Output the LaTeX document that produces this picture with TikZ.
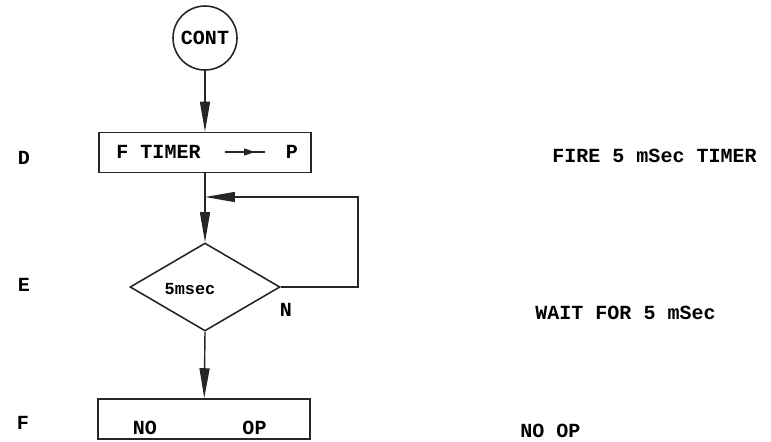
\documentclass[tikz,border=0pt]{standalone}
\usepackage{fontspec}
\setmonofont{Liberation Mono}
\usetikzlibrary{shapes.geometric, arrows.meta, positioning, decorations.markings}

\begin{document}
\begin{tikzpicture}[
    x=0.02cm, y=-0.02cm,
    font=\fontsize{11.4}{13}\selectfont\ttfamily\bfseries,
    term/.style={circle, draw=black!85, line width=0.9pt, minimum size=1.28cm, inner sep=0pt},
    box/.style={rectangle, draw=black!85, line width=0.9pt, minimum width=4.25cm, minimum height=0.8cm, inner sep=0pt},
    test/.style={diamond, draw=black!85, line width=0.9pt, minimum width=3cm, minimum height=1.76cm, inner sep=0pt},
    tag/.style={inner sep=0pt},
    note/.style={anchor=west, inner sep=0pt},
    line/.style={draw=black!85, line width=0.8pt, -{Triangle[length=0.6cm, width=0.2cm]}},
    midarrow/.style={draw=black!85, line width=0.8pt, postaction={decorate},
        decoration={markings, mark=at position 0.75 with {\arrow{Triangle[length=2.2mm, width=1.4mm]}}}}
]
\useasboundingbox (0,0) rectangle (771,441);

% Nodes
\node[term] (cont) at (205,38) {CONT};
\node[box] (fire) at (205,152.5) {};
\node[tag] (ftimer) at (158.5,152) {F TIMER};
\node[tag] (preg) at (292,152) {P};
\coordinate (arrA) at (225,152);
\coordinate (arrB) at (265,152);

\coordinate (junc) at (205,197);
\node[test] (wait) at (205,287) {};
\node[tag, font=\fontsize{9.6}{11}\selectfont\ttfamily\bfseries] (waittxt) at (190,289) {5msec};
\node[tag] (no) at (286,310) {N};
\coordinate (loop) at (358,287);

\node[box] (noop) at (204,419) {};
\node[tag] (noword) at (145,428) {NO};
\node[tag] (opword) at (254.5,428) {OP};

% Step letters
\node[tag] (stepd) at (24,158) {D};
\node[tag] (stepe) at (24,285) {E};
\node[tag] (stepf) at (23,423) {F};

% Comments
\node[note] (firenote) at (552,156) {FIRE 5 mSec TIMER};
\node[note] (waitnote) at (535,313) {WAIT FOR 5 mSec};
\node[note] (noopnote) at (520,431) {NO OP};

% Connections
\draw[midarrow] (arrA) -- (arrB);
\draw[line] (cont) -- (fire);
\draw[draw=black!85, line width=0.8pt] (fire) -- (junc);
\draw[line] (junc) -- (wait.north);
\draw[line] (wait.east) -- (loop) |- (junc);
\draw[line] (wait.south) -- (noop);

\end{tikzpicture}
\end{document}
